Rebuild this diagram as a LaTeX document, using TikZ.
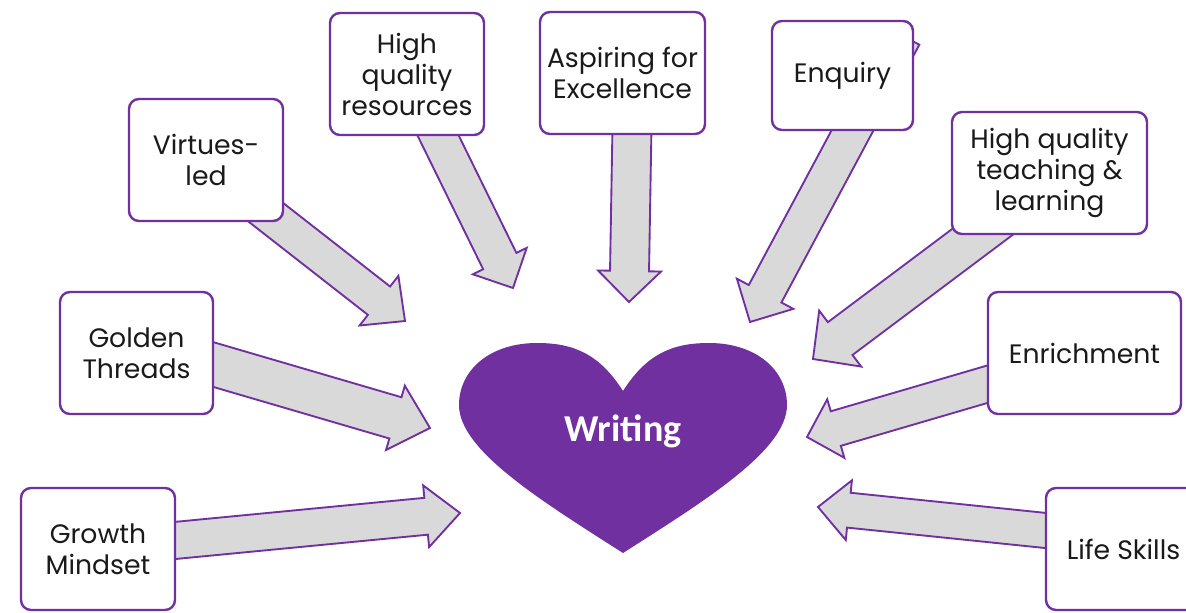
\documentclass[tikz,border=0pt]{standalone}
\usepackage{fontspec}
\setmainfont{Poppins}
\newfontfamily\wfont{Carlito}
\usetikzlibrary{calc}
\definecolor{vio}{HTML}{7030A0}
\definecolor{lgray}{HTML}{D9D9D9}
\definecolor{txt}{HTML}{1A1A1A}
% #1 tail, #2 tip, #3 shaft width px, #4 head width px, #5 head length px
\newcommand\blockarrow[5]{%
  \draw[blk] let \p1=($(#2)-(#1)$), \n1={atan2(\y1,\x1)}, \n2={veclen(\x1,\y1)-#5*0.75},
     \n3={#3*0.375}, \n4={#4*0.375}, \n5={\n1+90}, \n6={\n1-90} in
   ($(#1)+(\n5:{\n3*1pt})$) -- ($(#1)+(\n1:{\n2*1pt})+(\n5:{\n3*1pt})$)
   -- ($(#1)+(\n1:{\n2*1pt})+(\n5:{\n4*1pt})$) -- (#2)
   -- ($(#1)+(\n1:{\n2*1pt})+(\n6:{\n4*1pt})$) -- ($(#1)+(\n1:{\n2*1pt})+(\n6:{\n3*1pt})$)
   -- ($(#1)+(\n6:{\n3*1pt})$) -- cycle;}
\begin{document}
\begin{tikzpicture}[x=0.75pt,y=-0.75pt,
  bx/.style 2 args={draw=vio, line width=1.8pt, fill=white, rounded corners=7.5pt,
    minimum width=#1*0.75pt, minimum height=#2*0.75pt, inner sep=0pt, align=center,
    font=\fontsize{20}{23.25}\selectfont, text=txt},
  blk/.style={draw=vio, fill=lgray, line width=1.4pt, line join=miter},
]
\clip (0,0) rectangle (1186,613);
\fill[white] (0,0) rectangle (1186,613);
% arrow ends
\coordinate (tGM) at (155,542.4);  \coordinate (pGM) at (460,513);
\coordinate (tGT) at (193,358.6);  \coordinate (pGT) at (430,428);
\coordinate (tVL) at (247.4,197.9); \coordinate (pVL) at (405,321);
\coordinate (tHR) at (429,117);    \coordinate (pHR) at (513,288);
\coordinate (tAE) at (632.2,114);  \coordinate (pAE) at (629,302);
\coordinate (tEQ) at (903,36);     \coordinate (pEQ) at (750,322);
\coordinate (tHT) at (1021,203);   \coordinate (pHT) at (813,359);
\coordinate (tEN) at (1010,377.6); \coordinate (pEN) at (807,437);
\coordinate (tLS) at (1066,532.6); \coordinate (pLS) at (818,507);
% arrows
\blockarrow{tGM}{pGM}{37}{62}{34}
\blockarrow{tGT}{pGT}{43}{67}{36}
\blockarrow{tVL}{pVL}{36}{63}{33}
\blockarrow{tHR}{pHR}{37}{60}{30}
\blockarrow{tAE}{pAE}{39}{63}{31}
\blockarrow{tEQ}{pEQ}{37}{64}{32}
\blockarrow{tHT}{pHT}{41}{70}{34}
\blockarrow{tEN}{pEN}{36}{61}{30}
\blockarrow{tLS}{pLS}{35}{60}{31}
% boxes
\node[bx={154}{122}] (vl) at (206,160) {Virtues-\\led};
\node[bx={154}{122}] (hr) at (407,74) {High\\quality\\resources};
\node[bx={165}{122}] (ae) at (622.5,73) {Aspiring for\\Excellence};
\node[bx={141}{109}] (eq) at (842.5,75.5) {Enquiry};
\node[bx={195}{122}] (ht) at (1049.5,173) {High quality\\teaching \&\\learning};
\node[bx={153}{122}] (gt) at (136.5,353) {Golden\\Threads};
\node[bx={193}{122}] (en) at (1084.5,353) {Enrichment};
\node[bx={154}{122}] (gm) at (98,549) {Growth\\Mindset};
\node[bx={155}{122}] (ls) at (1123.5,549) {Life Skills};
% heart
\fill[vio] (623,391) .. controls (600,355) and (575,343) .. (537,343)
  .. controls (490,343) and (459,370) .. (459,405)
  .. controls (459,450) and (540,500) .. (623,553)
  .. controls (706,500) and (787,450) .. (787,405)
  .. controls (787,370) and (756,343) .. (709,343)
  .. controls (671,343) and (646,355) .. (623,391) -- cycle;
\node[text=white, font=\wfont\bfseries\fontsize{28.5}{34}\selectfont] (wr) at (623,431) {Writing};
\end{tikzpicture}
\end{document}
